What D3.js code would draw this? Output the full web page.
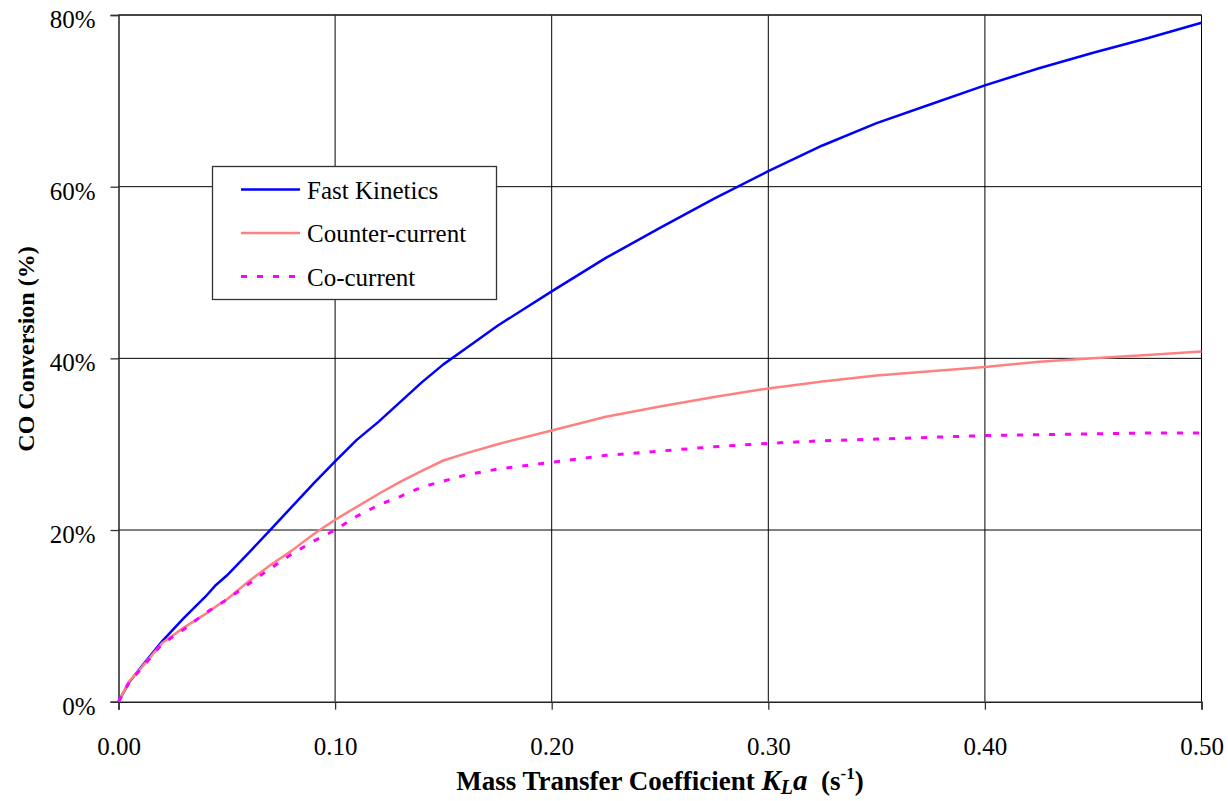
<!DOCTYPE html>
<html>
<head>
<meta charset="utf-8">
<script src="https://cdn.jsdelivr.net/npm/d3@7"></script>
<style>
  html, body { margin: 0; padding: 0; background: #fff; }
  svg { display: block; }
  svg text { font-family: "Liberation Serif", "Tinos", "Times New Roman", "DejaVu Serif", serif; }
</style>
</head>
<body>
<svg id="chart" width="1228" height="801"></svg>
<script>
// Mass transfer coefficient KLa (1/s)
const kla = [0, 0.005, 0.01, 0.02, 0.03, 0.04, 0.045, 0.05, 0.06, 0.07, 0.08, 0.09, 0.10,
  0.11, 0.12, 0.13, 0.14, 0.15, 0.16, 0.175, 0.20, 0.225, 0.25, 0.275, 0.30, 0.325,
  0.35, 0.375, 0.40, 0.425, 0.45, 0.475, 0.50];

// CO conversion (%) for each operating mode
const fastKinetics = [0, 2.3, 3.9, 7.0, 9.7, 12.2, 13.6, 14.7, 17.3, 20.0, 22.7, 25.4, 28.0,
  30.5, 32.6, 34.9, 37.2, 39.3, 41.1, 43.8, 47.8, 51.7, 55.2, 58.6, 61.8, 64.8,
  67.4, 69.6, 71.8, 73.8, 75.6, 77.3, 79.1];
const counterCurrent = [0, 2.4, 3.8, 6.8, 8.6, 10.2, 11.1, 11.9, 14.0, 15.9, 17.6, 19.5, 21.2,
  22.7, 24.2, 25.6, 26.9, 28.1, 28.9, 30.0, 31.6, 33.2, 34.4, 35.5, 36.5, 37.3,
  38.0, 38.5, 39.0, 39.6, 40.0, 40.4, 40.8];
const coCurrent = [0, 2.3, 3.7, 6.7, 8.4, 10.3, 11.1, 11.9, 13.7, 15.5, 17.2, 18.7, 20.0,
  21.6, 22.9, 23.9, 25.0, 25.7, 26.4, 27.1, 27.9, 28.7, 29.2, 29.7, 30.1, 30.4,
  30.6, 30.8, 31.0, 31.1, 31.2, 31.3, 31.3];

const seriesNames = ["Fast Kinetics", "Counter-current", "Co-current"];
const xTicks = [0, 0.1, 0.2, 0.3, 0.4, 0.5];
const yTicks = [0, 20, 40, 60, 80];

const series = [
  { name: seriesNames[0], values: fastKinetics,   color: "#0000ff", width: 2.5, dash: null },
  { name: seriesNames[1], values: counterCurrent, color: "#ff8080", width: 2.5, dash: null },
  { name: seriesNames[2], values: coCurrent,      color: "#ff00ff", width: 3,   dash: "6,10" }
];

const serif = "'Liberation Serif', 'Tinos', 'Times New Roman', 'DejaVu Serif', serif";

const svg = d3.select("#chart");
const x = d3.scaleLinear().domain([0, 0.5]).range([118.5, 1201.5]);
const y = d3.scaleLinear().domain([0, 80]).range([701.7, 15]);

// Grid
const grid = svg.append("g");
grid.selectAll(".gx").data(xTicks.slice(1)).join("line")
  .attr("x1", d => x(d)).attr("x2", d => x(d))
  .attr("y1", y(0)).attr("y2", y(80))
  .attr("stroke", "#000").attr("stroke-width", 1);
grid.selectAll(".gy").data(yTicks.slice(1)).join("line")
  .attr("x1", x(0)).attr("x2", x(0.5))
  .attr("y1", d => y(d)).attr("y2", d => y(d))
  .attr("stroke", "#000").attr("stroke-width", 1);

// Axes
const xAxis = svg.append("g")
  .attr("transform", `translate(0,${y(0)})`)
  .call(d3.axisBottom(x).tickValues(xTicks).tickFormat(d3.format(".2f")).tickSize(8).tickPadding(28));
const yAxis = svg.append("g")
  .attr("transform", `translate(${x(0)},0)`)
  .call(d3.axisLeft(y).tickValues(yTicks).tickFormat(d => d + "%").tickSize(8).tickPadding(15));
[xAxis, yAxis].forEach(a => {
  a.attr("font-family", null);
  a.select(".domain").attr("stroke", "#222").attr("stroke-width", 1.5);
  a.selectAll(".tick line").attr("stroke", "#333").attr("stroke-width", 1.3);
  a.selectAll(".tick text").attr("fill", "#000")
    .style("font-family", serif)
    .style("font-size", "25px");
});
yAxis.selectAll(".tick text").attr("dy", "0.5em");

// Top border
svg.append("line").attr("x1", x(0)).attr("x2", x(0.5)).attr("y1", y(80)).attr("y2", y(80))
  .attr("stroke", "#333").attr("stroke-width", 1.5);

// Curves
const line = d3.line().x((d, i) => x(kla[i])).y(d => y(d));
svg.append("g").selectAll("path").data(series).join("path")
  .attr("d", d => line(d.values))
  .attr("fill", "none")
  .attr("stroke", d => d.color)
  .attr("stroke-width", d => d.width)
  .attr("stroke-dasharray", d => d.dash)
  .attr("stroke-linejoin", "round");

// Legend
const legend = svg.append("g");
legend.append("rect")
  .attr("x", 212.5).attr("y", 166.5).attr("width", 284).attr("height", 133)
  .attr("fill", "#fff").attr("stroke", "#333").attr("stroke-width", 1.3);
const rows = legend.selectAll(".row").data(series).join("g")
  .attr("transform", (d, i) => `translate(0,${189.5 + i * 43.5})`);
rows.append("line")
  .attr("x1", 241).attr("x2", 300).attr("y1", 0).attr("y2", 0)
  .attr("stroke", d => d.color).attr("stroke-width", d => d.width)
  .attr("stroke-dasharray", d => d.dash);
rows.append("text")
  .attr("x", 307).attr("y", 9)
  .style("font-family", serif)
  .style("font-size", "25px")
  .text(d => d.name);

// Axis titles
const xt = svg.append("text")
  .attr("x", x(0.25)).attr("y", 790)
  .attr("text-anchor", "middle")
  .style("font-family", serif)
  .style("font-size", "27px").style("font-weight", "bold");
xt.append("tspan").text("Mass Transfer Coefficient ");
xt.append("tspan").style("font-style", "italic").style("font-size", "29px").text("K");
xt.append("tspan").style("font-style", "italic").style("font-size", "20px").attr("dy", 4).text("L");
xt.append("tspan").style("font-style", "italic").style("font-size", "29px").attr("dy", -4).text("a");
xt.append("tspan").text("\u00a0 (s");
xt.append("tspan").style("font-size", "17px").attr("dy", -11).text("-1");
xt.append("tspan").attr("dy", 11).text(")");

svg.append("text")
  .attr("transform", "translate(34,349) rotate(-90)")
  .attr("text-anchor", "middle")
  .style("font-family", serif)
  .style("font-size", "24px").style("font-weight", "bold")
  .text("CO Conversion (%)");
</script>
</body>
</html>
